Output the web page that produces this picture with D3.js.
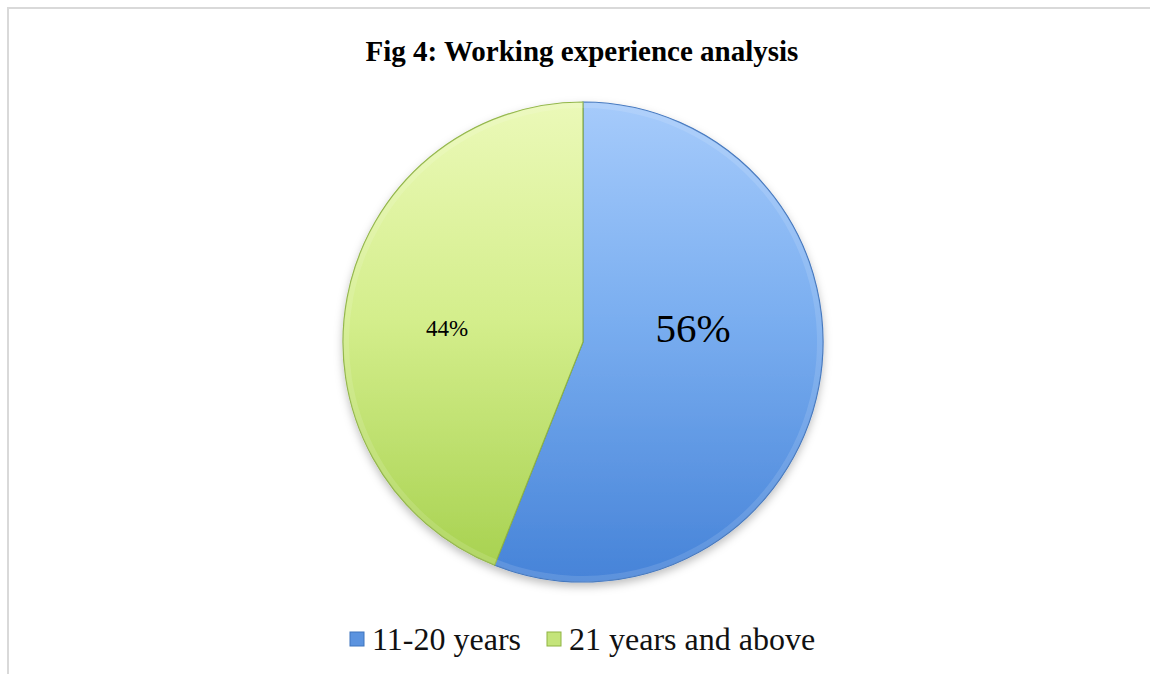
<!DOCTYPE html>
<html><head><meta charset="utf-8">
<script src="https://cdn.jsdelivr.net/npm/d3@7"></script>
<style>html,body{margin:0;padding:0;background:#fff;}svg{display:block;} text{font-family:'Liberation Serif','Times New Roman',serif;}</style>
</head><body>
<svg id="c" width="1150" height="675"></svg>
<script>
const categories = ["11-20 years", "21 years and above"];
const values = [56, 44];
const labels = ["56%", "44%"];
const title = "Fig 4: Working experience analysis";

const FONT = "'Liberation Serif', 'Times New Roman', serif";
const svg = d3.select("#c");
const defs = svg.append("defs");
const grads = [
  {id:"gBlue", stops:[["0%","#a6cbfb"],["45%","#7aaef0"],["100%","#4683d8"]]},
  {id:"gGreen", stops:[["0%","#ebf9b8"],["45%","#d4ee8c"],["100%","#a5d04d"]]}
];
grads.forEach(g=>{
  const lg = defs.append("linearGradient").attr("id",g.id).attr("gradientUnits","userSpaceOnUse")
    .attr("x1",0).attr("y1",-240).attr("x2",0).attr("y2",240);
  g.stops.forEach(s=>lg.append("stop").attr("offset",s[0]).attr("stop-color",s[1]));
});
const f = defs.append("filter").attr("id","sh").attr("x","-20%").attr("y","-20%").attr("width","140%").attr("height","140%");
f.append("feDropShadow").attr("dx",0).attr("dy",4).attr("stdDeviation",4).attr("flood-color","#000").attr("flood-opacity",0.25);

// border
svg.append("path").attr("d","M8,674 V8 H1150").attr("fill","none").attr("stroke","#d9d9d9").attr("stroke-width",2);

svg.append("text").attr("x",582).attr("y",61).attr("text-anchor","middle")
  .style("font-family",FONT).attr("font-weight","bold")
  .attr("font-size",29).attr("fill","#000").text(title);

const cx=583, cy=342, r=240;
const g = svg.append("g").attr("transform",`translate(${cx},${cy})`);
const pie = d3.pie().sort(null).value(d=>d)(values);
const arc = d3.arc().innerRadius(0).outerRadius(r);
const fills = ["url(#gBlue)","url(#gGreen)"];
const edges = ["#3f74bd","#8fb443"];
g.append("g").attr("filter","url(#sh)").selectAll("path").data(pie).join("path")
  .attr("d",arc).attr("fill",(d,i)=>fills[i]).attr("stroke",(d,i)=>edges[i]).attr("stroke-width",1.2);
const inner = d3.arc().innerRadius(r-6).outerRadius(r);
g.selectAll("path.bev").data(pie).join("path").attr("class","bev")
  .attr("d",inner).attr("fill","#ffffff").attr("opacity",0.12);

const lblPos = [[110,-14],[-136,-14]];
const lblSize = [41,23];
g.selectAll("text.lbl").data(pie).join("text").attr("class","lbl")
  .attr("x",(d,i)=>lblPos[i][0]).attr("y",(d,i)=>lblPos[i][1])
  .attr("text-anchor","middle").attr("dominant-baseline","central")
  .style("font-family",FONT)
  .attr("font-size",(d,i)=>lblSize[i]).attr("fill","#000").text((d,i)=>labels[i]);

// legend
const legX=[350,547];
const legColors=[["#5b93df","#3f74bd"],["#c4e47a","#8fb443"]];
const lg = svg.append("g");
categories.forEach((c,i)=>{
  lg.append("rect").attr("x",legX[i]).attr("y",632).attr("width",14).attr("height",14)
    .attr("fill",legColors[i][0]).attr("stroke",legColors[i][1]).attr("stroke-width",1);
  lg.append("text").attr("x",legX[i]+22).attr("y",650)
    .style("font-family",FONT).attr("font-size",32)
    .attr("fill","#111").text(c);
});
</script>
</body></html>
